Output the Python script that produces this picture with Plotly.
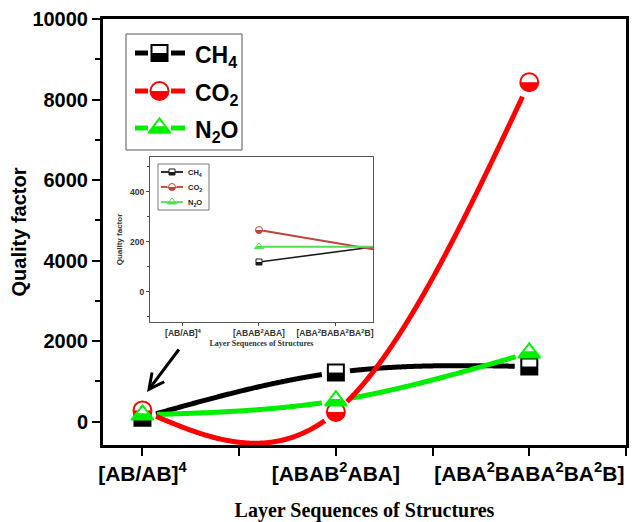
import numpy as np
import plotly.graph_objects as go

# ---------------- data ----------------
categories = ["[AB/AB]<sup>4</sup>", "[ABAB<sup>2</sup>ABA]",
              "[ABA<sup>2</sup>BABA<sup>2</sup>BA<sup>2</sup>B]"]
cat_pos = [0, 1, 2]
ch4 = [100, 1220, 1370]
co2 = [280, 240, 8430]
n2o = [170, 520, 1710]

inset_pos = [1, 2.5]
inset_ch4 = [119, 179]
inset_co2 = [247, 170]
inset_n2o = [180, 180]

y_ticks = [0, 2000, 4000, 6000, 8000, 10000]
y_tick_labels = ["0", "2000", "4000", "6000", "8000", "10000"]
y_minor = [1000, 3000, 5000, 7000, 9000]
inset_y_ticks = [0, 200, 400]
inset_y_labels = ["0", "200", "400"]
inset_y_minor = [-100, 100, 300, 500]
series_names = ["CH<sub>4</sub>", "CO<sub>2</sub>", "N<sub>2</sub>O"]

# ---------------- layout geometry ----------------
W, H = 634, 522
ML, MR, MT, MB = 103, 8, 19, 77
PW, PH = W - ML - MR, H - MT - MB
MAIN_X = [-0.204, 2.5]
MAIN_Y = [-579, 10000]
IN_L, IN_R, IN_T, IN_B = 150, 373, 157, 322
IN_X = [-0.434, 2.5]
IN_Y = [-121, 539]
IN_PW, IN_PH = IN_R - IN_L, IN_B - IN_T

px_x = {"x": PW / (MAIN_X[1] - MAIN_X[0]), "x2": IN_PW / (IN_X[1] - IN_X[0]), "x3": 1.0}
px_y = {"y": PH / (MAIN_Y[1] - MAIN_Y[0]), "y2": IN_PH / (IN_Y[1] - IN_Y[0]), "y3": -1.0}

BLACK, RED, GREEN = "#000000", "#ff0000", "#00ee00"
IN_BLACK, IN_RED, IN_GREEN = "#1a1a1a", "#c0443c", "#55dd55"

fig = go.Figure()


def up(ya, px):
    """data offset corresponding to moving `px` pixels upward"""
    return px / px_y[ya]


def half_marker(xs, ys, kind, color, size, xa, ya, lw=2):
    r = size / 2.0
    common = dict(xaxis=xa, yaxis=ya, mode="markers", hoverinfo="skip", showlegend=False)
    if kind == "square":
        fig.add_trace(go.Scatter(x=xs, y=ys, marker=dict(symbol="square", size=size, color="white",
                                                         line=dict(width=lw, color=color)), **common))
        fig.add_trace(go.Scatter(x=xs, y=[v - up(ya, r / 2) for v in ys],
                                 marker=dict(symbol="line-ew", size=size / 1.4, color=color,
                                             line=dict(width=r, color=color)), **common))
    elif kind == "circle":
        fig.add_trace(go.Scatter(x=xs, y=ys, marker=dict(symbol="circle", size=size, color=color,
                                                         line=dict(width=0)), **common))
        fig.add_trace(go.Scatter(x=xs, y=[v + up(ya, (r + 1) / 2) for v in ys],
                                 marker=dict(symbol="line-ew", size=(size + 2) / 1.4, color="white",
                                             line=dict(width=r + 1, color="white")), **common))
        fig.add_trace(go.Scatter(x=xs, y=ys, marker=dict(symbol="circle-open", size=size, color=color,
                                                         line=dict(width=lw, color=color)), **common))
    else:
        k = 0.55
        fig.add_trace(go.Scatter(x=xs, y=ys, marker=dict(symbol="triangle-up", size=size, color=color,
                                                         line=dict(width=0)), **common))
        fig.add_trace(go.Scatter(x=xs, y=[v + up(ya, (1 - k) * r) for v in ys],
                                 marker=dict(symbol="triangle-up", size=size * k, color="white",
                                             line=dict(width=0)), **common))
        fig.add_trace(go.Scatter(x=xs, y=ys, marker=dict(symbol="triangle-up-open", size=size, color=color,
                                                         line=dict(width=lw, color=color)), **common))


def natural_spline(xs, ys, n=400):
    xs = np.asarray(xs, float)
    ys = np.asarray(ys, float)
    k = len(xs)
    h = np.diff(xs)
    A = np.zeros((k, k))
    b = np.zeros(k)
    A[0, 0] = 1
    A[-1, -1] = 1
    for i in range(1, k - 1):
        A[i, i - 1] = h[i - 1]
        A[i, i] = 2 * (h[i - 1] + h[i])
        A[i, i + 1] = h[i]
        b[i] = 6 * ((ys[i + 1] - ys[i]) / h[i] - (ys[i] - ys[i - 1]) / h[i - 1])
    M = np.linalg.solve(A, b)
    xx = np.linspace(xs[0], xs[-1], n)
    idx = np.clip(np.searchsorted(xs, xx, side="right") - 1, 0, k - 2)
    x0, x1 = xs[idx], xs[idx + 1]
    hh = x1 - x0
    t0, t1 = x1 - xx, xx - x0
    yy = (M[idx] * t0 ** 3 / (6 * hh) + M[idx + 1] * t1 ** 3 / (6 * hh)
          + (ys[idx] / hh - M[idx] * hh / 6) * t0 + (ys[idx + 1] / hh - M[idx + 1] * hh / 6) * t1)
    return xx, yy


def gapped_curve(xs, ys, gap_px, xa="x", ya="y"):
    xx, yy = natural_spline(xs, ys)
    out = []
    for a, b in zip(xx, yy):
        d = min(np.hypot((a - px) * px_x[xa], (b - py) * px_y[ya]) for px, py in zip(xs, ys))
        out.append(None if d < gap_px else float(b))
    return [float(a) for a in xx], out


# ---------------- main curves ----------------
for vals, col in [(ch4, BLACK), (n2o, GREEN), (co2, RED)]:
    cx, cy = gapped_curve(cat_pos, vals, 14)
    fig.add_trace(go.Scatter(x=cx, y=cy, mode="lines", line=dict(color=col, width=5, simplify=False),
                             hoverinfo="skip", showlegend=False, connectgaps=False))

half_marker(cat_pos, ch4, "square", BLACK, 16, "x", "y")
half_marker(cat_pos, co2, "circle", RED, 18, "x", "y")
half_marker(cat_pos, n2o, "triangle", GREEN, 19, "x", "y")

# ---------------- inset ----------------
for vals, col, w in [(inset_ch4, IN_BLACK, 1.6), (inset_co2, IN_RED, 2.2), (inset_n2o, IN_GREEN, 2.2)]:
    fig.add_trace(go.Scatter(x=inset_pos, y=vals, mode="lines", line=dict(color=col, width=w),
                             xaxis="x2", yaxis="y2", hoverinfo="skip", showlegend=False))
half_marker(inset_pos[:1], inset_ch4[:1], "square", IN_BLACK, 6, "x2", "y2", lw=1)
half_marker(inset_pos[:1], inset_co2[:1], "circle", IN_RED, 7, "x2", "y2", lw=1)
half_marker(inset_pos[:1], inset_n2o[:1], "triangle", IN_GREEN, 8, "x2", "y2", lw=1)

# ---------------- legends (pixel overlay axis) ----------------
leg_rows = [53, 91, 128]
leg_specs = [("square", BLACK, 16), ("circle", RED, 18), ("triangle", GREEN, 19)]
for row, (kind, col, sz) in zip(leg_rows, leg_specs):
    for seg in ([135, 148], [171, 185]):
        fig.add_trace(go.Scatter(x=seg, y=[row, row], mode="lines", line=dict(color=col, width=5),
                                 xaxis="x3", yaxis="y3", hoverinfo="skip", showlegend=False))
    half_marker([159.5], [row], kind, col, sz, "x3", "y3")

in_rows = [172, 187, 202]
in_specs = [("square", IN_BLACK, 6), ("circle", IN_RED, 7), ("triangle", IN_GREEN, 8)]
for row, (kind, col, sz) in zip(in_rows, in_specs):
    fig.add_trace(go.Scatter(x=[161, 183], y=[row, row], mode="lines", line=dict(color=col, width=1.8),
                             xaxis="x3", yaxis="y3", hoverinfo="skip", showlegend=False))
    half_marker([172], [row], kind, col, sz, "x3", "y3", lw=1)

annotations = []
for row, name in zip(leg_rows, series_names):
    annotations.append(dict(x=193, y=row + 3, xref="x3", yref="y3", text="<b>" + name + "</b>",
                            showarrow=False, xanchor="left", yanchor="middle",
                            font=dict(family="Liberation Sans", size=23, color="black")))
for row, name in zip(in_rows, series_names):
    annotations.append(dict(x=186, y=row + 1, xref="x3", yref="y3", text="<b>" + name + "</b>",
                            showarrow=False, xanchor="left", yanchor="middle",
                            font=dict(family="Liberation Sans", size=7.5, color="#222")))
annotations.append(dict(x=147, y=392, xref="x3", yref="y3", ax=180, ay=348, axref="x3", ayref="y3",
                        text="", showarrow=True, arrowhead=5, arrowsize=1, arrowwidth=3,
                        arrowcolor="black", standoff=0))

shapes = [
    dict(type="rect", xref="x3", yref="y3", x0=126, x1=242, y0=34, y1=150,
         line=dict(color="#555", width=1), fillcolor="rgba(0,0,0,0)"),
    dict(type="rect", xref="x3", yref="y3", x0=158, x1=209, y0=164, y1=210,
         line=dict(color="#777", width=1), fillcolor="rgba(0,0,0,0)"),
]

# ---------------- axes ----------------
main_tick_font = dict(family="Liberation Sans", size=20, color="black", weight="bold")
fig.update_layout(
    width=W, height=H,
    margin=dict(l=ML, r=MR, t=MT, b=MB, autoexpand=False),
    paper_bgcolor="white", plot_bgcolor="rgba(0,0,0,0)",
    showlegend=False,
    annotations=annotations, shapes=shapes,
    xaxis=dict(range=MAIN_X, tickmode="array", tickvals=cat_pos, ticktext=categories,
               ticks="outside", ticklen=8, tickwidth=2, tickcolor="black",
               showline=True, linewidth=3, linecolor="black", mirror=True,
               showgrid=False, zeroline=False, automargin=False,
               tickfont=dict(family="Liberation Sans", size=21, color="black", weight="bold"),
               minor=dict(tickmode="array", tickvals=[0.5, 1.5, 2.5], ticks="outside",
                          ticklen=8, tickwidth=2, tickcolor="black", showgrid=False),
               title=dict(text="Layer Sequences of Structures", standoff=21,
                          font=dict(family="Liberation Serif", size=20, color="black", weight="bold"))),
    yaxis=dict(range=MAIN_Y, tickmode="array", tickvals=y_ticks, ticktext=y_tick_labels,
               ticks="outside", ticklen=8, tickwidth=2, tickcolor="black",
               showline=True, linewidth=3, linecolor="black", mirror=True,
               showgrid=False, zeroline=False, tickfont=main_tick_font, automargin=False,
               minor=dict(tickmode="array", tickvals=y_minor, ticks="outside",
                          ticklen=5, tickwidth=2, tickcolor="black", showgrid=False),
               title=dict(text="Quality factor", standoff=1,
                          font=dict(family="Liberation Sans", size=20, color="black", weight="bold"))),
    xaxis2=dict(domain=[(IN_L - ML) / PW, (IN_R - ML) / PW], anchor="y2", range=IN_X,
                tickmode="array", tickvals=cat_pos, ticktext=categories,
                ticks="outside", ticklen=3, tickwidth=1, tickcolor="#444",
                showline=True, linewidth=1, linecolor="#555", mirror=True,
                showgrid=False, zeroline=False,
                tickfont=dict(family="Liberation Sans", size=8.5, color="#333", weight="bold"),
                title=dict(text="Layer Sequences of Structures", standoff=3,
                           font=dict(family="Liberation Serif", size=8, color="#333", weight="bold"))),
    yaxis2=dict(domain=[(MT + PH - IN_B) / PH, (MT + PH - IN_T) / PH], anchor="x2", range=IN_Y,
                tickmode="array", tickvals=inset_y_ticks, ticktext=inset_y_labels,
                ticks="outside", ticklen=3, tickwidth=1, tickcolor="#444",
                showline=True, linewidth=1, linecolor="#555", mirror=True,
                showgrid=False, zeroline=False,
                tickfont=dict(family="Liberation Sans", size=8.5, color="#333", weight="bold"),
                minor=dict(tickmode="array", tickvals=inset_y_minor, ticks="outside",
                           ticklen=2, tickwidth=1, tickcolor="#444", showgrid=False),
                title=dict(text="Quality factor", standoff=6,
                           font=dict(family="Liberation Sans", size=8, color="#333", weight="bold"))),
    xaxis3=dict(overlaying="x", range=[ML, ML + PW], visible=False, fixedrange=True),
    yaxis3=dict(overlaying="y", range=[MT + PH, MT], visible=False, fixedrange=True),
)

fig.write_html("out.html")
